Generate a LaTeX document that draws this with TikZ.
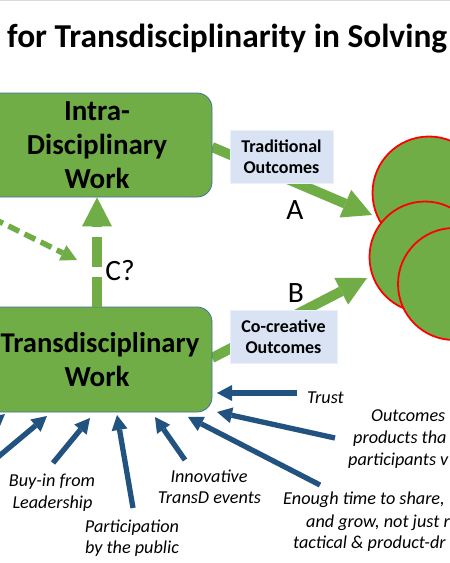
\documentclass[tikz,border=0pt]{standalone}
\usepackage{fontspec}
\setmainfont{Carlito}
\usetikzlibrary{arrows.meta}
\definecolor{tgreen}{HTML}{70AD47}
\definecolor{boxedge}{HTML}{41719C}
\definecolor{lblue}{HTML}{DAE3F3}
\definecolor{lblueedge}{HTML}{EAF0F9}
\definecolor{tblue}{HTML}{22527F}
\definecolor{topline}{HTML}{DADADA}
\tikzset{
  gbox/.style={fill=tgreen, draw=boxedge, line width=0.8pt, rounded corners=15pt,
    minimum width=230pt, align=center, inner sep=0pt,
    font=\bfseries\fontsize{29}{34}\selectfont},
  lbl/.style={fill=lblue, draw=lblueedge, line width=0.8pt, align=center, inner sep=0pt,
    minimum height=53pt, font=\bfseries\fontsize{18}{21.5}\selectfont},
  letter/.style={font=\fontsize{29.5}{34}\selectfont, inner sep=0pt},
  itxt/.style={font=\itshape\fontsize{18.2}{22}\selectfont, inner sep=0pt},
  goal/.style={circle, fill=tgreen, draw=red, line width=1.8pt, inner sep=0pt},
  garrow/.style={draw=tgreen, line width=10pt, -{Triangle[length=29pt,width=30pt,line width=0pt]}},
  darrow/.style={draw=tgreen, line width=5.5pt, dash pattern=on 12pt off 6pt,
    -{Triangle[length=16pt,width=17pt,line width=0pt]}},
  barrow/.style={draw=tblue, line width=5.3pt, -{Triangle[length=15pt,width=16pt,line width=0pt]}}
}
\begin{document}
\begin{tikzpicture}[x=1pt,y=-1pt]
\useasboundingbox (0,0) rectangle (450,563);
\clip (0,0) rectangle (450,563);
\fill[white] (0,0) rectangle (450,563);
\draw[topline, line width=1.5pt] (0,0.6) -- (450,0.6);

% title
\node[anchor=base west, inner sep=0pt, font=\bfseries\fontsize{33.4}{40}\selectfont] (title) at (7,47) {for Transdisciplinarity in Solving};

% goal circles
\node[goal, minimum size=113pt] (c1) at (429,193) {};
\node[goal, minimum size=111pt] (c2) at (425,257) {};
\node[goal, minimum size=112pt] (c3) at (454,284) {};

% coordinates
\coordinate (aS) at (212,147);
\coordinate (aT) at (372,215);
\coordinate (bS) at (212,358);
\coordinate (bT) at (367,278);
\coordinate (dS) at (-40,202);
\coordinate (dT) at (77,260);

% green arrows
\draw[garrow] (aS) -- (aT);
\draw[garrow] (bS) -- (bT);
\draw[darrow] (dS) -- (dT);

% boxes
\node[gbox, minimum height=104pt] (intra) at (97,145) {Intra-\\Disciplinary\\Work};
\node[gbox, minimum height=105pt] (trans) at (97,359.5) {\hspace*{6pt}{\fontsize{28.6}{34}\selectfont Transdisciplinary}\\Work};

\draw[garrow, dash pattern=on 30pt off 10pt] (trans.north) -- (intra.south);

% labels
\node[lbl, minimum width=103pt] (trad) at (281.5,156.5) {Traditional\\Outcomes};
\node[lbl, minimum width=107pt] (cocr) at (283.5,336.5) {Co-creative\\Outcomes};
\node[letter] (A) at (295,210) {A};
\node[letter] (B) at (296,293) {B};
\node[letter] (C) at (120,271) {C?};

% blue arrows
\coordinate (t1) at (-45,455); \coordinate (h1) at (5,414);
\coordinate (t2) at (-8,462);  \coordinate (h2) at (47,416);
\coordinate (t3) at (53,463);  \coordinate (h3) at (90,418);
\coordinate (t4) at (133,508); \coordinate (h4) at (117,415);
\coordinate (t5) at (185,460); \coordinate (h5) at (155,417);
\coordinate (t6) at (320,485); \coordinate (h6) at (188,417);
\coordinate (t7) at (335,438); \coordinate (h7) at (217,412);
\coordinate (t8) at (297,393); \coordinate (h8) at (217,393);
\foreach \i in {1,...,8} {\draw[barrow] (t\i) -- (h\i);}

% factor texts
\node[itxt, anchor=base west] (trust) at (307,403) {Trust};
\node[itxt, anchor=base west] (out1) at (371,421) {Outcomes};
\node[itxt, anchor=base west] (out2) at (353,443) {products tha};
\node[itxt, anchor=base west] (out3) at (348,465) {participants v};
\node[itxt, anchor=base west] (en1) at (283,504) {Enough time to share,};
\node[itxt, anchor=base west] (en2) at (306,527) {and grow, not just r};
\node[itxt, anchor=base west] (en3) at (293,548) {tactical \& product-dr};
\node[itxt, anchor=base] (buy1) at (52,486) {Buy-in from};
\node[itxt, anchor=base] (buy2) at (52.5,508) {Leadership};
\node[itxt, anchor=base] (par1) at (132,532) {Participation};
\node[itxt, anchor=base] (par2) at (132,553) {by the public};
\node[itxt, anchor=base] (inn1) at (209,482) {Innovative};
\node[itxt, anchor=base] (inn2) at (209.5,503) {TransD events};
\end{tikzpicture}
\end{document}
